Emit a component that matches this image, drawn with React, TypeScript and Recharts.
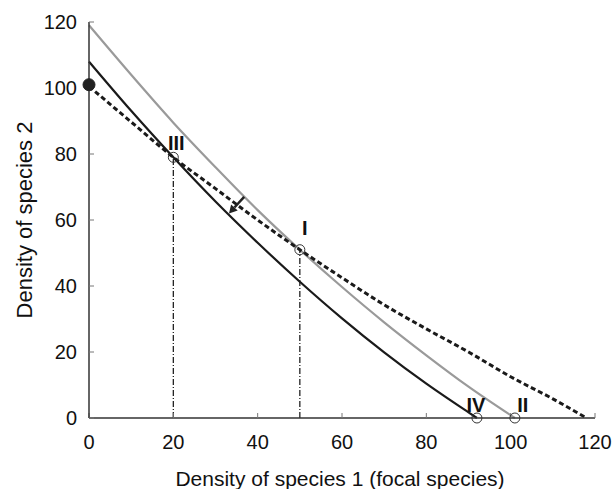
import {
  LineChart,
  Line,
  XAxis,
  YAxis,
  ReferenceLine,
  ReferenceDot,
  Label,
} from "recharts";

// x positions (density of species 1) and curve heights
const greyX = [0, 10, 20, 30, 40, 50, 60, 70, 80, 90, 101];
const greyY = [119, 104, 89.5, 76, 63, 51, 39.7, 29, 19, 9.5, 0];

const blackX = [0, 10, 20, 30, 40, 50, 60, 70, 80, 90, 92];
const blackY = [108, 93.1, 79, 65.6, 53.1, 41.3, 30.2, 19.9, 10.4, 1.7, 0];

const dashX = [0, 10, 20, 30, 40, 50, 60, 70, 80, 90, 100, 110, 118];
const dashY = [100.5, 89.7, 79, 69.5, 60, 51, 42.5, 34.3, 27, 20, 12.5, 5.8, 0];

const ticks = [0, 20, 40, 60, 80, 100, 120];

// equilibrium points
const points = [
  { name: "III", x: 20, y: 79, dx: 3, dy: 3 },
  { name: "I", x: 50, y: 51, dx: 5, dy: -5 },
  { name: "IV", x: 92, y: 0, dx: -1, dy: 4 },
  { name: "II", x: 101, y: 0, dx: 8, dy: 4 },
];
const startPoint = { x: 0, y: 101 };
const arrowFrom = { x: 36.8, y: 67 };
const arrowTo = { x: 33.2, y: 62 };

const toRows = (xs: number[], ys: number[]) =>
  xs.map((x, i) => ({ x, y: ys[i] }));

const font = "'Liberation Sans', Arial, Helvetica, sans-serif";

const Arrow = (props: any) => {
  const { x1, y1, x2, y2 } = props;
  const ang = Math.atan2(y2 - y1, x2 - x1);
  const len = 8;
  const w = 4.5;
  const bx = x2 - len * Math.cos(ang);
  const by = y2 - len * Math.sin(ang);
  const px = -Math.sin(ang) * w;
  const py = Math.cos(ang) * w;
  return (
    <g>
      <line x1={x1} y1={y1} x2={bx} y2={by} stroke="#222" strokeWidth={2.5} />
      <polygon
        points={`${x2},${y2} ${bx + px},${by + py} ${bx - px},${by - py}`}
        fill="#222"
      />
    </g>
  );
};

const App = () => {
  return (
    <div
      style={{
        position: "absolute",
        left: 0,
        top: 0,
        width: 614,
        height: 489,
        fontFamily: font,
      }}
    >
      <LineChart
        width={614}
        height={489}
        margin={{ top: 22, right: 19, left: 0, bottom: 0 }}
      >
        <XAxis
          type="number"
          dataKey="x"
          domain={[0, 120]}
          ticks={ticks}
          height={71}
          tickSize={-5}
          tickMargin={22}
          axisLine={{ stroke: "#333", strokeWidth: 1.5 }}
          tickLine={{ stroke: "#777" }}
          tick={{ fill: "#111", fontSize: 20, fontFamily: font }}
        >
          <Label
            value="Density of species 1 (focal species)"
            position="insideBottom"
            offset={3}
            dx={-2}
            style={{ fill: "#111", fontSize: 21, fontFamily: font }}
          />
        </XAxis>
        <YAxis
          type="number"
          domain={[0, 120]}
          ticks={ticks}
          width={89}
          tickSize={-5}
          tickMargin={17}
          axisLine={{ stroke: "#333", strokeWidth: 1.5 }}
          tickLine={{ stroke: "#777" }}
          tick={{ fill: "#111", fontSize: 20, fontFamily: font }}
        >
          <Label
            value="Density of species 2"
            angle={-90}
            position="center"
            dx={-20}
            style={{ fill: "#111", fontSize: 22, fontFamily: font }}
          />
        </YAxis>

        <ReferenceLine
          segment={[{ x: 20, y: 0 }, { x: 20, y: 79 }]}
          stroke="#222"
          strokeWidth={1.3}
          strokeDasharray="6 2 1 2"
        />
        <ReferenceLine
          segment={[{ x: 50, y: 0 }, { x: 50, y: 51 }]}
          stroke="#222"
          strokeWidth={1.3}
          strokeDasharray="6 2 1 2"
        />

        <Line
          data={toRows(greyX, greyY)}
          dataKey="y"
          type="monotone"
          stroke="#9a9a9a"
          strokeWidth={2.2}
          dot={false}
          isAnimationActive={false}
        />
        <Line
          data={toRows(blackX, blackY)}
          dataKey="y"
          type="monotone"
          stroke="#1a1a1a"
          strokeWidth={2.2}
          dot={false}
          isAnimationActive={false}
        />
        <Line
          data={toRows(dashX, dashY)}
          dataKey="y"
          type="monotone"
          stroke="#1a1a1a"
          strokeWidth={3}
          strokeDasharray="5 3"
          dot={false}
          isAnimationActive={false}
        />

        <ReferenceLine
          segment={[arrowFrom, arrowTo]}
          shape={Arrow}
          ifOverflow="visible"
        />

        <ReferenceDot
          x={startPoint.x}
          y={startPoint.y}
          r={6}
          fill="#222"
          stroke="#222"
          ifOverflow="visible"
        />
        {points.map((p) => (
          <ReferenceDot
            key={p.name}
            x={p.x}
            y={p.y}
            r={5}
            fill="none"
            stroke="#333"
            strokeWidth={1}
            ifOverflow="visible"
          >
            <Label
              value={p.name}
              position="top"
              offset={5}
              dx={p.dx}
              dy={p.dy}
              style={{
                fill: "#111",
                fontSize: 20,
                fontWeight: "bold",
                fontFamily: font,
              }}
            />
          </ReferenceDot>
        ))}
      </LineChart>
    </div>
  );
};

export default App;
